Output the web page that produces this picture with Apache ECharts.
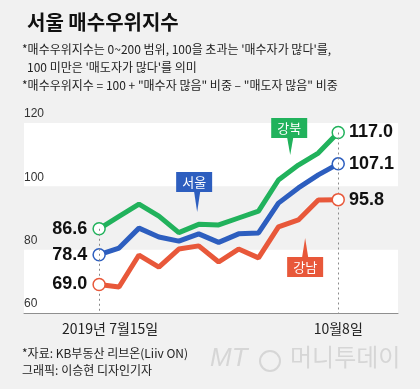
<!DOCTYPE html>
<html><head><meta charset="utf-8">
<script src="https://cdn.jsdelivr.net/npm/echarts@6/dist/echarts.min.js"></script>
<style>html,body{margin:0;padding:0;background:#f1f1f1}#c{width:420px;height:389px}</style>
</head><body><div id="c"></div>
<script>
// ---- data ----
var categories = ['2019년 7월15일','7/22','7/29','8/5','8/12','8/19','8/26','9/2','9/9','9/16','9/23','9/30','10월8일'];
var gangbuk = [86.6, 90.5, 94.4, 90.6, 85.4, 88.0, 87.8, 90.0, 92.2, 102.0, 106.7, 110.5, 117.0];
var seoul   = [78.4, 80.5, 86.8, 84.0, 82.7, 85.0, 82.3, 85.0, 85.3, 94.7, 99.5, 103.6, 107.1];
var gangnam = [69.0, 68.2, 78.3, 74.5, 80.2, 81.2, 76.1, 80.2, 77.4, 87.2, 89.4, 95.7, 95.8];
var yTicks = [60, 80, 100, 120];
var xLabelIdx = [0, 12];
var seriesNames = ['강북', '서울', '강남'];
// callouts: [name, tip x index, tip value]
var callouts = [['서울', 4.92, 91.9], ['강북', 9.59, 109.9], ['강남', 10.34, 83.7]];

var colors = {'강북':'#21b25c', '서울':'#2d5ebf', '강남':'#e8583a'};
var FONT = "'Noto Sans CJK KR', sans-serif";
var NUMFONT = "'Liberation Sans Narrow', 'Liberation Sans', Arial, sans-serif";
var last = categories.length - 1;

function mkData(vals, color) {
  return vals.map(function (v, i) {
    var item = {value: [i, v]};
    if (i === 0 || i === last) {
      item.symbol = 'circle';
      item.symbolSize = 12;
      item.label = {show: true, position: i === 0 ? 'left' : 'right', distance: i === 0 ? 5 : 4,
        formatter: function (p) { return p.value[1].toFixed(1); },
        fontFamily: NUMFONT, fontWeight: 'bold', fontSize: 18, color: '#111'};
    } else {
      item.symbol = 'none';
    }
    return item;
  });
}

var series = [];
var valsMap = {'강북': gangbuk, '서울': seoul, '강남': gangnam};
seriesNames.forEach(function (n, k) {
  var s = {
    name: n, type: 'line', data: mkData(valsMap[n], colors[n]),
    lineStyle: {color: colors[n], width: 5},
    itemStyle: {color: '#fff', borderColor: colors[n], borderWidth: 1.5},
    color: colors[n], z: 3 + k, silent: true, animation: false
  };
  if (k === 0) {
    s.markArea = {silent: true, itemStyle: {color: '#ffffff'},
      data: [[{yAxis: yTicks[2]}, {yAxis: yTicks[3]}], [{yAxis: yTicks[0]}, {yAxis: yTicks[1]}]]};
    s.markLine = {silent: true, symbol: 'none', label: {show: false},
      lineStyle: {color: '#8a8a8a', width: 1, type: [2, 3]},
      data: [
        [{coord: [0, gangbuk[0]]}, {coord: [0, yTicks[0]]}],
        [{coord: [last, gangbuk[last]]}, {coord: [last, yTicks[0]]}]
      ]};
  }
  series.push(s);
});

var chart = echarts.init(document.getElementById('c'), null, {renderer: 'canvas'});
chart.setOption({
  backgroundColor: '#f1f1f1',
  animation: false,
  grid: {left: 24, right: 22, top: 123, bottom: 76},
  xAxis: {
    type: 'value', min: -3.77, max: 15.0, z: 10,
    axisLine: {show: true, lineStyle: {color: '#8f8f8f', width: 1}},
    axisTick: {show: false}, splitLine: {show: false},
    axisLabel: {customValues: xLabelIdx, margin: 9, fontFamily: FONT, fontSize: 14, color: '#222',
      formatter: function (v) {
        var i = Math.round(v);
        return i === 0 ? '{a|' + categories[i] + '}' : categories[i];
      },
      rich: {a: {fontFamily: FONT, fontSize: 14, color: '#222', padding: [0, 0, 0, 22]}}}
  },
  yAxis: {
    type: 'value', min: 60, max: 120, interval: 20, z: 10,
    axisLine: {show: false}, axisTick: {show: false}, splitLine: {show: false},
    axisLabel: {inside: true, margin: 0, verticalAlign: 'bottom', fontFamily: "Arial, 'Liberation Sans', sans-serif",
      fontSize: 12, color: '#333', padding: [0, 0, 3, 0]}
  },
  series: series
});

function buildGraphics() {
  var g = [];
  // title & notes
  g.push({type: 'text', left: 27, top: 12, style: {text: '서울 매수우위지수', font: 'bold 20px ' + FONT, fill: '#111'}});
  var notes = [
    [22, 43, "*매수우위지수는 0~200 범위, 100을 초과는 '매수자가 많다'를,"],
    [27, 61, "100 미만은 '매도자가 많다'를 의미"],
    [22, 79, '*매수우위지수 = 100 + "매수자 많음" 비중 – "매도자 많음" 비중']
  ];
  notes.forEach(function (n) {
    g.push({type: 'text', left: n[0], top: n[1], style: {text: n[2], font: '12px ' + FONT, fill: '#222'}});
  });
  g.push({type: 'text', left: 22, top: 347, style: {text: '*자료: KB부동산 리브온(Liiv ON)', font: '12px ' + FONT, fill: '#222'}});
  g.push({type: 'text', left: 22, top: 364, style: {text: '그래픽: 이승현 디자인기자', font: '12px ' + FONT, fill: '#222'}});
  // watermark
  g.push({type: 'text', left: 210, top: 346, style: {text: 'MT', font: 'italic 26px ' + NUMFONT, fill: '#d6d6d6'}});
  g.push({type: 'circle', shape: {cx: 270, cy: 361, r: 10}, style: {fill: 'none', stroke: '#d6d6d6', lineWidth: 2}});
  g.push({type: 'text', left: 290, top: 345, style: {text: '머니투데이', font: '24px ' + FONT, fill: '#d6d6d6'}});
  // callouts
  callouts.forEach(function (c) {
    var p = chart.convertToPixel({gridIndex: 0}, [c[1], c[2]]);
    var col = colors[c[0]];
    var up = c[0] !== '강남'; // box above tip
    var bw = 36, bh = 20;
    var bx, by;
    if (c[0] === '서울') { bx = p[0] - 21; by = p[1] - 40; }
    else if (c[0] === '강북') { bx = p[0] - 19; by = p[1] - 37; }
    else { bx = p[0] - 18; by = p[1] + 19; }
    var baseY = up ? by + bh : by;
    g.push({type: 'polygon', z: 20, shape: {points: [[p[0] - 3, baseY], [p[0] + 3, baseY], [p[0], p[1]]]}, style: {fill: col}});
    g.push({type: 'rect', z: 20, shape: {x: bx, y: by, width: bw, height: bh}, style: {fill: col}});
    g.push({type: 'text', z: 21, x: bx + bw / 2, y: by + bh / 2, style: {text: c[0], font: '13px ' + FONT, fill: '#fff', textAlign: 'center', textVerticalAlign: 'middle'}});
  });
  return g;
}
chart.setOption({graphic: buildGraphics()});
</script></body></html>
